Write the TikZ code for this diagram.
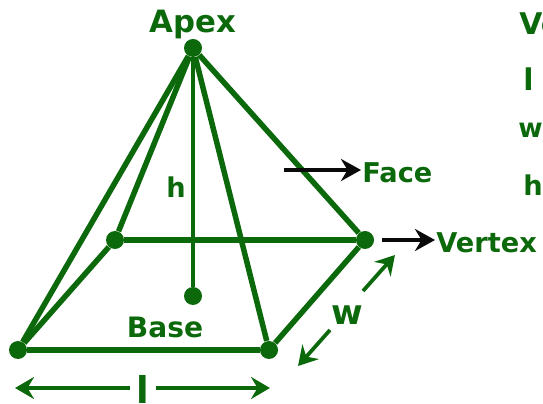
\documentclass[tikz,border=0pt]{standalone}
\usepackage{xcolor}
\usepackage{fontspec}
\setmainfont{DejaVu Sans}
\usetikzlibrary{arrows.meta}
\definecolor{leaf}{HTML}{0B690B}
\definecolor{ink}{HTML}{0A0A0A}
\tikzset{
  vert/.style={circle, fill=leaf, inner sep=0pt, minimum size=3.6mm},
  edge/.style={draw=leaf, line width=1.1mm},
  lbl/.style={font=\fontsize{15.5}{18}\bfseries\color{leaf}, inner sep=0pt},
  dimen/.style={->,>={Stealth[length=3.8mm,width=4.4mm,inset=1.3mm]}, draw=leaf, line width=0.75mm},
  point/.style={->,>={Stealth[length=4mm,width=4.4mm,inset=1.3mm]}, draw=ink, line width=0.75mm}
}

\begin{document}
\begin{tikzpicture}[x=0.02cm,y=-0.02cm]
    \useasboundingbox (0,0) rectangle (543,404);
    \clip (0,0) rectangle (543,404);

    \node[vert] (apex) at (193,48) {};
    \node[vert] (bl) at (115,240) {};
    \node[vert] (br) at (365,240) {};
    \node[vert] (fl) at (18,350) {};
    \node[vert] (fr) at (269,350) {};
    \node[vert] (basept) at (193,296) {};

    \draw[edge] (apex) -- (fl);
    \draw[edge] (apex) -- (bl);
    \draw[edge] (apex) -- (fr);
    \draw[edge] (apex) -- (br);
    \draw[edge] (bl) -- (br);
    \draw[edge] (fl) -- (fr);
    \draw[edge] (fl) -- (bl);
    \draw[edge] (fr) -- (br);
    \draw[edge, line width=0.75mm] (apex) -- (basept);

    \node[lbl, font=\fontsize{17.5}{20}\bfseries\color{leaf}] (apexlbl) at (193,24) {Apex};
    \node[lbl] (h) at (176,187) {h};
    \node[lbl, font=\fontsize{16}{18}\bfseries\color{leaf}] (baselbl) at (165,327) {Base};
    \node[lbl, anchor=west] (face) at (362,173) {Face};
    \node[lbl, anchor=west] (vertex) at (436,243) {Vertex};
    \node[lbl, font=\fontsize{19.5}{21}\bfseries\color{leaf}] (w) at (347,315) {w};
    \node[lbl, font=\fontsize{21}{24}\bfseries\color{leaf}, inner xsep=3.5pt] (l) at (143,389) {l};

    % right hand legend
    \node[lbl, font=\fontsize{17}{20}\bfseries\color{leaf}, anchor=west] (legend) at (519,24) {Ve};
    \node[lbl, font=\fontsize{17}{20}\bfseries\color{leaf}, anchor=west] (legl) at (523,79) {l};
    \node[lbl, font=\fontsize{15}{17}\bfseries\color{leaf}, anchor=west] (legw) at (518,130) {w};
    \node[lbl, anchor=west] (legh) at (523,185) {h};

    \coordinate (facestart) at (284,170);
    \coordinate (faceend) at (361,170);
    \coordinate (vertstart) at (382,240);
    \coordinate (vertend) at (435,240);
    \coordinate (lleft) at (15,388);
    \coordinate (lright) at (270,388);
    \coordinate (wtop) at (395,255);
    \coordinate (wtopin) at (363,291);
    \coordinate (wbot) at (298,366);
    \coordinate (wbotin) at (330,330);

    \draw[point] (facestart) -- (faceend);
    \draw[point] (vertstart) -- (vertend);
    \draw[dimen] (l.west |- lleft) -- (lleft);
    \draw[dimen] (l.east |- lright) -- (lright);
    \draw[dimen] (wtopin) -- (wtop);
    \draw[dimen] (wbotin) -- (wbot);
\end{tikzpicture}
\end{document}
